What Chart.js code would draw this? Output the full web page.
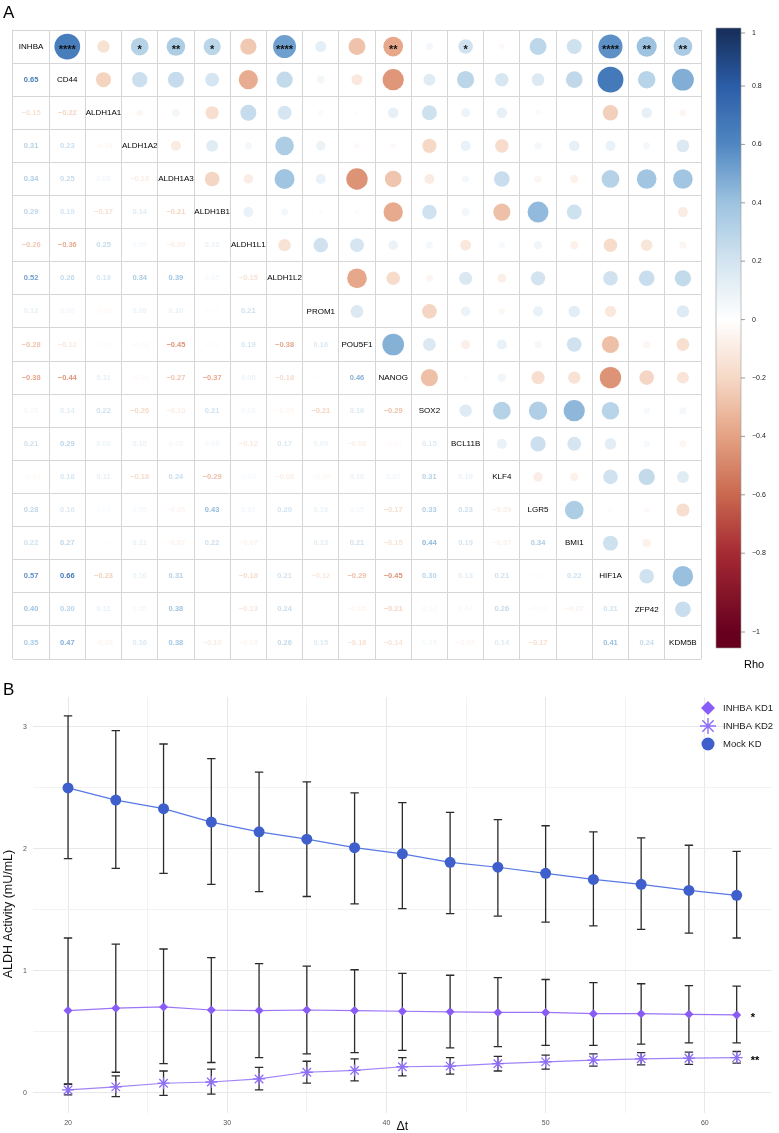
<!DOCTYPE html>
<html>
<head>
<meta charset="utf-8">
<script src="https://cdn.jsdelivr.net/npm/chart.js@4.4.1/dist/chart.umd.min.js"></script>
<style>
    html, body { margin: 0; padding: 0; background: #fff; }
    #wrap { position: relative; width: 779px; height: 1133px; }
    canvas { position: absolute; left: 0; display: block; }
    #corr { top: 0; }
    #aldh { top: 680px; }
</style>
</head>
<body>
<div id="wrap">
    <canvas id="corr" width="779" height="680"></canvas>
    <canvas id="aldh" width="779" height="453"></canvas>
</div>
<script>
// ===========================
// Panel A data: Spearman rho (lower triangle, row by row)
// ===========================
const genes = ['INHBA', 'CD44', 'ALDH1A1', 'ALDH1A2', 'ALDH1A3', 'ALDH1B1', 'ALDH1L1', 'ALDH1L2',
    'PROM1', 'POU5F1', 'NANOG', 'SOX2', 'BCL11B', 'KLF4', 'LGR5', 'BMI1', 'HIF1A', 'ZFP42', 'KDM5B'];

const rhoRows = [
    [],
    [0.65],
    [-0.15, -0.22],
    [0.31, 0.23, -0.04],
    [0.34, 0.25, 0.06, -0.10],
    [0.29, 0.19, -0.17, 0.14, -0.21],
    [-0.26, -0.36, 0.25, 0.05, -0.09, 0.10],
    [0.52, 0.26, 0.19, 0.34, 0.39, 0.05, -0.15],
    [0.12, 0.06, -0.03, 0.09, 0.10, 0.02, 0.21, 0.00],
    [-0.28, -0.12, -0.02, -0.03, -0.45, 0.02, 0.19, -0.38, 0.16],
    [-0.38, -0.44, 0.11, -0.03, -0.27, -0.37, 0.09, -0.18, -0.01, 0.46],
    [0.05, 0.14, 0.22, -0.20, -0.10, 0.21, 0.05, -0.05, -0.21, 0.16, -0.29],
    [0.21, 0.29, 0.08, 0.10, 0.05, 0.06, -0.12, 0.17, 0.09, -0.08, -0.02, 0.15],
    [-0.03, 0.18, 0.11, -0.18, 0.24, -0.29, 0.04, -0.08, -0.04, 0.10, 0.07, 0.31, 0.10],
    [0.28, 0.16, 0.03, 0.05, -0.05, 0.43, 0.07, 0.20, 0.10, 0.05, -0.17, 0.33, 0.23, -0.09],
    [0.22, 0.27, -0.01, 0.11, -0.07, 0.22, -0.07, 0.00, 0.13, 0.21, -0.15, 0.44, 0.19, -0.07, 0.34],
    [0.57, 0.66, -0.23, 0.10, 0.31, 0.01, -0.18, 0.21, -0.12, -0.29, -0.45, 0.30, 0.13, 0.21, -0.02, 0.22],
    [0.40, 0.30, 0.11, 0.05, 0.38, -0.01, -0.13, 0.24, 0.00, -0.05, -0.21, 0.04, 0.04, 0.26, -0.03, -0.07, 0.21],
    [0.35, 0.47, -0.05, 0.16, 0.38, -0.10, -0.05, 0.26, 0.15, -0.16, -0.14, 0.05, -0.05, 0.14, -0.17, 0.01, 0.41, 0.24]
];

// significance marks on the INHBA row (upper triangle)
const inhbaStars = ['', '****', '', '*', '**', '*', '', '****', '', '', '**', '', '*', '', '', '', '****', '**', '**'];

const colorbarTicks = [1, 0.8, 0.6, 0.4, 0.2, 0, -0.2, -0.4, -0.6, -0.8, -1];

// ===========================
// Panel B data: ALDH activity
// ===========================
const dt = [20, 23, 26, 29, 32, 35, 38, 41, 44, 47, 50, 53, 56, 59, 62];

const kd1Mean = [0.675, 0.695, 0.705, 0.68, 0.675, 0.68, 0.675, 0.67, 0.665, 0.66, 0.66, 0.65, 0.65, 0.645, 0.64];
const kd1Low  = [0.07, 0.17, 0.24, 0.25, 0.29, 0.32, 0.33, 0.35, 0.37, 0.38, 0.39, 0.39, 0.40, 0.41, 0.41];
const kd1High = [1.27, 1.22, 1.18, 1.11, 1.06, 1.04, 1.01, 0.98, 0.965, 0.945, 0.93, 0.905, 0.895, 0.88, 0.875];

const kd2Mean = [0.025, 0.05, 0.08, 0.09, 0.115, 0.17, 0.185, 0.215, 0.22, 0.24, 0.255, 0.27, 0.28, 0.285, 0.29];
const kd2Low  = [-0.015, -0.03, -0.02, -0.01, 0.025, 0.08, 0.10, 0.14, 0.155, 0.18, 0.195, 0.22, 0.23, 0.235, 0.245];
const kd2High = [0.075, 0.14, 0.18, 0.195, 0.21, 0.26, 0.28, 0.29, 0.29, 0.30, 0.31, 0.32, 0.33, 0.335, 0.34];

const mockMean = [2.50, 2.40, 2.33, 2.22, 2.14, 2.08, 2.01, 1.96, 1.89, 1.85, 1.80, 1.75, 1.71, 1.66, 1.62];
const mockLow  = [1.92, 1.84, 1.80, 1.71, 1.65, 1.61, 1.55, 1.51, 1.47, 1.45, 1.40, 1.37, 1.34, 1.31, 1.27];
const mockHigh = [3.09, 2.97, 2.86, 2.74, 2.63, 2.55, 2.46, 2.38, 2.30, 2.24, 2.19, 2.14, 2.09, 2.03, 1.98];

const xTicksB = [20, 25, 30, 35, 40, 45, 50, 55, 60];
const yTicksB = [0, 0.5, 1, 1.5, 2, 2.5, 3];

// ===========================
// Helpers
// ===========================
const SANS = '"Liberation Sans", Arial, Helvetica, sans-serif';
// muted RdBu, from -1 to 1
const rdbu = ['#67001F', '#A52A33', '#C9684F', '#E4A283', '#F6D8C6', '#FFFFFF',
    '#D3E4F0', '#9DC3E0', '#5087C2', '#2B5DA6', '#17305E'];

function hexToRgb(h) {
    return [parseInt(h.slice(1, 3), 16), parseInt(h.slice(3, 5), 16), parseInt(h.slice(5, 7), 16)];
}

function rhoColor(v) {
    const t = (Math.max(-1, Math.min(1, v)) + 1) / 2 * (rdbu.length - 1);
    const i = Math.min(Math.floor(t), rdbu.length - 2);
    const f = t - i;
    const a = hexToRgb(rdbu[i]), b = hexToRgb(rdbu[i + 1]);
    const c = a.map((ch, k) => Math.round(ch + (b[k] - ch) * f));
    return `rgb(${c[0]},${c[1]},${c[2]})`;
}

function fmtRho(v) {
    const s = Math.abs(v).toFixed(2);
    return v < 0 ? '\u2212' + s : s;
}

// colour bar label position (px) for a rho value
function barY(v) {
    if (v === 1) return 33;
    if (v === -1) return 632;
    return 86 + (0.8 - v) / 0.2 * 58.4;
}

// ===========================
// Panel A: correlation matrix
// ===========================
const nG = genes.length;
const padA = { left: 10, top: 30, right: 78, bottom: 21 };
const cellW = (779 - padA.left - padA.right) / nG;
const cellH = (680 - padA.top - padA.bottom) / nG;
const cellSize = Math.sqrt(cellW * cellH);

const corrPoints = [];
for (let i = 0; i < nG; i++) {
    for (let j = i + 1; j < nG; j++) {
        const v = rhoRows[j][i];
        corrPoints.push({ x: j + 0.5, y: i + 0.5, r: 0.46 * Math.sqrt(Math.abs(v)) * cellSize, v: v });
    }
}

const gridTicks = Array.from({ length: nG + 1 }, (_, k) => ({ value: k }));

const corrText = {
    id: 'corrText',
    afterDatasetsDraw(chart) {
        const { ctx, scales: { x, y } } = chart;
        ctx.save();
        ctx.textAlign = 'center';
        ctx.textBaseline = 'middle';

        // diagonal gene names
        ctx.font = `8px ${SANS}`;
        ctx.fillStyle = '#000';
        genes.forEach((g, i) => {
            ctx.fillText(g, x.getPixelForValue(i + 0.5), y.getPixelForValue(i + 0.5));
        });

        // lower triangle numbers
        ctx.font = `bold 7.5px ${SANS}`;
        rhoRows.forEach((row, j) => {
            row.forEach((v, i) => {
                ctx.fillStyle = rhoColor(v);
                ctx.fillText(fmtRho(v), x.getPixelForValue(i + 0.5), y.getPixelForValue(j + 0.5));
            });
        });

        // stars
        ctx.font = `bold 11px ${SANS}`;
        ctx.fillStyle = '#111';
        inhbaStars.forEach((s, j) => {
            if (!s) return;
            ctx.fillText(s, x.getPixelForValue(j + 0.5), y.getPixelForValue(0.5) + 3);
        });

        // panel letter
        ctx.textAlign = 'left';
        ctx.font = `17px ${SANS}`;
        ctx.fillStyle = '#000';
        ctx.fillText('A', 3, 13);
        ctx.restore();
    }
};

const colorbar = {
    id: 'colorbar',
    afterDraw(chart) {
        const ctx = chart.ctx;
        const x0 = 716, w = 25, top = 28, bottom = 648;
        ctx.save();
        const grad = ctx.createLinearGradient(0, top, 0, bottom);
        colorbarTicks.forEach(v => {
            grad.addColorStop((barY(v) - top) / (bottom - top), rhoColor(v));
        });
        grad.addColorStop(0, rhoColor(1));
        grad.addColorStop(1, rhoColor(-1));
        ctx.fillStyle = grad;
        ctx.fillRect(x0, top, w, bottom - top);
        ctx.strokeStyle = '#999';
        ctx.lineWidth = 0.6;
        ctx.strokeRect(x0, top, w, bottom - top);

        ctx.font = `7px ${SANS}`;
        ctx.fillStyle = '#222';
        ctx.textAlign = 'left';
        ctx.textBaseline = 'middle';
        colorbarTicks.forEach(v => {
            const yy = barY(v);
            ctx.beginPath();
            ctx.moveTo(x0 + w, yy);
            ctx.lineTo(x0 + w + 4, yy);
            ctx.strokeStyle = '#555';
            ctx.stroke();
            ctx.fillText(v === 0 ? '0' : fmtRho(v).replace(/\.?0+$/, ''), 752, yy);
        });
        ctx.font = `11px ${SANS}`;
        ctx.fillStyle = '#000';
        ctx.fillText('Rho', 744, 665);
        ctx.restore();
    }
};

new Chart(document.getElementById('corr'), {
    type: 'bubble',
    data: {
        datasets: [{
            data: corrPoints,
            backgroundColor: ctx => rhoColor(ctx.raw ? ctx.raw.v : 0),
            borderWidth: 0
        }]
    },
    options: {
        responsive: false,
        animation: false,
        events: [],
        layout: { padding: padA },
        plugins: { legend: { display: false }, tooltip: { enabled: false } },
        scales: {
            x: {
                type: 'linear', min: 0, max: nG,
                afterBuildTicks: s => { s.ticks = gridTicks.map(t => ({ value: t.value })); },
                afterFit: s => { s.height = 0; },
                ticks: { display: false },
                grid: { color: '#d6d6d6', lineWidth: 1, drawTicks: false },
                border: { display: false }
            },
            y: {
                type: 'linear', min: 0, max: nG, reverse: true,
                afterBuildTicks: s => { s.ticks = gridTicks.map(t => ({ value: t.value })); },
                afterFit: s => { s.width = 0; },
                ticks: { display: false },
                grid: { color: '#d6d6d6', lineWidth: 1, drawTicks: false },
                border: { display: false }
            }
        }
    },
    plugins: [corrText, colorbar]
});

// ===========================
// Panel B: ALDH activity line chart
// ===========================
const mockColor = '#3e5fcc';
const kd1Color = '#8a5cf6';
const kd2Color = '#8f6ef6';

const errorBars = [
    { low: kd1Low, high: kd1High },
    { low: kd2Low, high: kd2High },
    { low: mockLow, high: mockHigh }
];

const errorBarPlugin = {
    id: 'errorBars',
    beforeDatasetsDraw(chart) {
        const { ctx, scales: { x, y } } = chart;
        ctx.save();
        ctx.strokeStyle = '#2b2b2b';
        ctx.lineWidth = 1.3;
        errorBars.forEach(eb => {
            dt.forEach((t, i) => {
                const px = x.getPixelForValue(t);
                const y1 = y.getPixelForValue(eb.low[i]);
                const y2 = y.getPixelForValue(eb.high[i]);
                ctx.beginPath();
                ctx.moveTo(px, y1); ctx.lineTo(px, y2);
                ctx.moveTo(px - 4.2, y1); ctx.lineTo(px + 4.2, y1);
                ctx.moveTo(px - 4.2, y2); ctx.lineTo(px + 4.2, y2);
                ctx.stroke();
            });
        });
        ctx.restore();
    }
};

const annotB = {
    id: 'annotB',
    afterDraw(chart) {
        const { ctx, scales: { x, y }, chartArea } = chart;
        ctx.save();
        const last = dt.length - 1;
        const xs = x.getPixelForValue(dt[last]) + 14;
        ctx.font = `bold 11px ${SANS}`;
        ctx.fillStyle = '#000';
        ctx.textAlign = 'left';
        ctx.textBaseline = 'middle';
        ctx.fillText('*', xs, y.getPixelForValue(kd1Mean[last]) + 3);
        ctx.fillText('**', xs, y.getPixelForValue(kd2Mean[last]) + 3);

        // legend
        const lx = 708, ly = [28, 46, 64];
        ctx.fillStyle = kd1Color;
        ctx.beginPath();
        ctx.moveTo(lx, ly[0] - 7); ctx.lineTo(lx + 7, ly[0]); ctx.lineTo(lx, ly[0] + 7); ctx.lineTo(lx - 7, ly[0]);
        ctx.closePath(); ctx.fill();

        ctx.strokeStyle = kd2Color;
        ctx.lineWidth = 1.4;
        ctx.beginPath();
        for (let k = 0; k < 4; k++) {
            const a = k * Math.PI / 4;
            ctx.moveTo(lx - 8 * Math.cos(a), ly[1] - 8 * Math.sin(a));
            ctx.lineTo(lx + 8 * Math.cos(a), ly[1] + 8 * Math.sin(a));
        }
        ctx.stroke();

        ctx.fillStyle = mockColor;
        ctx.beginPath();
        ctx.arc(lx, ly[2], 6.5, 0, Math.PI * 2);
        ctx.fill();

        ctx.fillStyle = '#222';
        ctx.font = `9.5px ${SANS}`;
        ['INHBA KD1', 'INHBA KD2', 'Mock KD'].forEach((t, k) => ctx.fillText(t, 723, ly[k]));

        // axis titles
        ctx.fillStyle = '#111';
        ctx.font = `12.5px ${SANS}`;
        ctx.textAlign = 'center';
        ctx.fillText('\u0394t', (chartArea.left + chartArea.right) / 2, 447);
        ctx.translate(9, 234);
        ctx.rotate(-Math.PI / 2);
        ctx.fillText('ALDH Activity (mU/mL)', 0, 0);
        ctx.setTransform(1, 0, 0, 1, 0, 0);

        ctx.textAlign = 'left';
        ctx.font = `17px ${SANS}`;
        ctx.fillStyle = '#000';
        ctx.fillText('B', 3, 10);
        ctx.restore();
    }
};

const toXY = arr => dt.map((t, i) => ({ x: t, y: arr[i] }));

new Chart(document.getElementById('aldh'), {
    type: 'line',
    data: {
        datasets: [
            {
                label: 'INHBA KD1',
                data: toXY(kd1Mean),
                borderColor: 'rgba(138,92,246,0.85)',
                borderWidth: 1.2,
                pointStyle: 'rectRot',
                pointRadius: 4.5,
                pointBackgroundColor: kd1Color,
                pointBorderWidth: 0
            },
            {
                label: 'INHBA KD2',
                data: toXY(kd2Mean),
                borderColor: 'rgba(143,110,246,0.85)',
                borderWidth: 1.2,
                pointStyle: 'star',
                pointRadius: 6,
                pointBorderColor: kd2Color,
                pointBorderWidth: 1.3
            },
            {
                label: 'Mock KD',
                data: toXY(mockMean),
                borderColor: 'rgba(70,105,225,0.9)',
                borderWidth: 1.2,
                pointStyle: 'circle',
                pointRadius: 5.5,
                pointBackgroundColor: mockColor,
                pointBorderWidth: 0
            }
        ]
    },
    options: {
        responsive: false,
        animation: false,
        events: [],
        layout: { padding: { top: 17, right: 4, left: 0, bottom: 0 } },
        plugins: { legend: { display: false }, tooltip: { enabled: false } },
        scales: {
            x: {
                type: 'linear', min: 17.8, max: 64.2,
                afterBuildTicks: s => { s.ticks = xTicksB.map(v => ({ value: v })); },
                afterFit: s => { s.height = 20; },
                ticks: {
                    callback: v => (v % 10 === 0 ? String(v) : ''),
                    font: { size: 7, family: SANS }, color: '#555', padding: 6,
                    maxRotation: 0, autoSkip: false
                },
                grid: {
                    color: c => (c.tick && c.tick.value % 10 === 0 ? '#e8e8e8' : '#f2f2f2'),
                    lineWidth: 1, drawTicks: false
                },
                border: { display: false }
            },
            y: {
                type: 'linear', min: -0.164, max: 3.245,
                afterBuildTicks: s => { s.ticks = yTicksB.map(v => ({ value: v })); },
                afterFit: s => { s.width = 33; },
                ticks: {
                    callback: v => (Number.isInteger(v) ? String(v) : ''),
                    font: { size: 7, family: SANS }, color: '#555', padding: 6,
                    autoSkip: false
                },
                grid: {
                    color: c => (c.tick && Number.isInteger(c.tick.value) ? '#e8e8e8' : '#f2f2f2'),
                    lineWidth: 1, drawTicks: false
                },
                border: { display: false }
            }
        }
    },
    plugins: [errorBarPlugin, annotB]
});
</script>
</body>
</html>
